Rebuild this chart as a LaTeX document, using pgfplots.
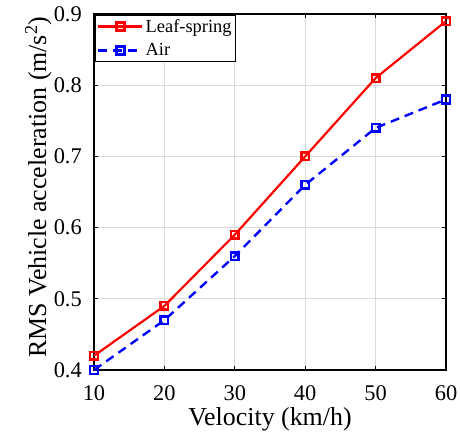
\documentclass[border=0pt]{standalone}
\usepackage{pgfplots}
\pgfplotsset{compat=1.18}
\usepackage{fontspec}
\setmainfont{Liberation Serif}
\definecolor{gridgray}{RGB}{218,218,218}
\begin{document}
\begin{tikzpicture}
\useasboundingbox (-94bp,-71bp) rectangle (366bp,370bp);
\begin{axis}[
  at={(0,0)}, anchor=south west,
  scale only axis,
  width=352bp, height=356bp,
  xmin=10, xmax=60, ymin=0.4, ymax=0.9,
  xtick={10,20,30,40,50,60},
  ytick={0.4,0.5,0.6,0.7,0.8,0.9},
  yticklabel style={/pgf/number format/fixed,/pgf/number format/precision=1,/pgf/number format/fixed zerofill, inner sep=0pt, xshift=-12bp},
  xticklabel style={inner sep=0pt, yshift=-15bp},
  /pgf/number format/assume math mode=true,
  tick label style={font=\fontsize{22.5}{26}\selectfont},
  xlabel={Velocity (km/h)},
  ylabel={RMS Vehicle acceleration (m/s\textsuperscript{2})},
  xlabel style={font=\fontsize{26}{30}\selectfont, at={(axis description cs:0.5,0)}, anchor=base, yshift=-55bp},
  ylabel style={font=\fontsize{26}{30}\selectfont, at={(axis description cs:-0.136,0.513)}, anchor=base},
  grid=major,
  major grid style={gridgray, line width=1.2pt},
  axis line style={line width=1.2pt},
  tick style={black, line width=0.8pt},
  tick align=inside,
  major tick length=4bp,
  legend style={font=\fontsize{18.5}{21}\selectfont, draw=black, line width=1.2pt, inner sep=2pt, row sep=6pt, at={(0.002,0.998)}, anchor=north west, legend cell align=left},
  legend image code/.code={\draw[mark repeat=2,mark phase=2,#1] plot coordinates {(0bp,0bp) (22bp,0bp) (44bp,0bp)};},
]
\addplot[red, line width=2.2pt, mark=square, mark size=3.8bp, mark options={solid, line width=2.6pt}] coordinates {
 (10,0.42) (20,0.49) (30,0.59) (40,0.70) (50,0.81) (60,0.89)};
\addlegendentry{Leaf-spring}
\addplot[blue, line width=2.4pt, dash pattern=on 9pt off 6pt, mark=square, mark size=3.8bp, mark options={solid, line width=2.6pt}] coordinates {
 (10,0.40) (20,0.47) (30,0.56) (40,0.66) (50,0.74) (60,0.78)};
\addlegendentry{Air}
\end{axis}
\end{tikzpicture}
\end{document}
